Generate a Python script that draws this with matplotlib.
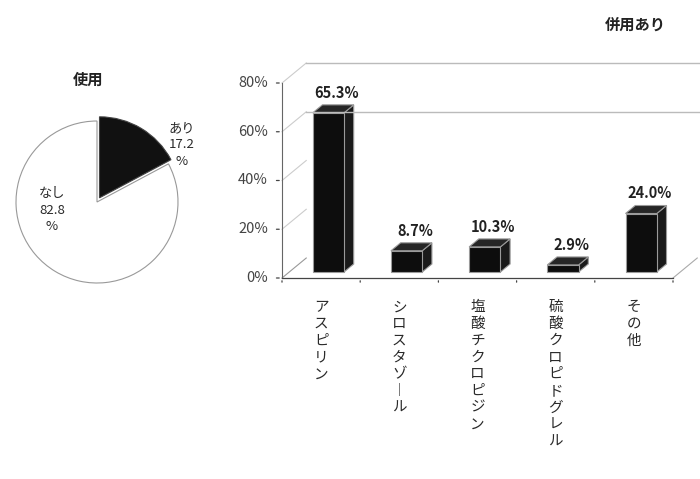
import matplotlib
matplotlib.use('Agg')
import matplotlib.pyplot as plt
from matplotlib.patches import Polygon

plt.rcParams['font.family'] = ['Noto Sans CJK JP', 'DejaVu Sans']

# data
pie_labels = ['あり', 'なし']
pie_values = [17.2, 82.8]
bar_categories = ['アスピリン', 'シロスタゾール', '塩酸チクロピジン', '硫酸クロピドグレル', 'その他']
bar_values = [65.3, 8.7, 10.3, 2.9, 24.0]
y_ticks = [0, 20, 40, 60, 80]

W, H = 700, 479
fig = plt.figure(figsize=(7, 4.79), dpi=100)

# ---- pie ----
cx, cy, r = 97, 202, 81
pax = fig.add_axes([(cx - r) / W, (H - cy - r) / H, 2 * r / W, 2 * r / H])
wedges, _ = pax.pie(pie_values, colors=['#111111', 'white'], startangle=90, counterclock=False,
                    explode=[0.06, 0], radius=1,
                    wedgeprops=dict(edgecolor='#999999', linewidth=0.8))
wedges[0].set_edgecolor('#444444')
pax.set_xlim(-1, 1)
pax.set_ylim(-1, 1)
pax.axis('off')
for w in wedges:
    w.set_clip_on(False)
fig.text(88 / W, 1 - 80 / H, '使用', ha='center', va='center', fontsize=11, fontweight='bold', color='#222222')
fig.text(182 / W, 1 - 145 / H, f'{pie_labels[0]}\n{pie_values[0]}\n%', ha='center', va='center',
         fontsize=9.5, color='#2a2a2a', linespacing=1.35)
fig.text(52 / W, 1 - 210 / H, f'{pie_labels[1]}\n{pie_values[1]}\n%', ha='center', va='center',
         fontsize=9.5, color='#2a2a2a', linespacing=1.35)

# ---- pseudo 3D bar chart ----
x0, x1 = 282, 673
y0, y1 = 278, 83
ax = fig.add_axes([x0 / W, (H - y0) / H, (x1 - x0) / W, (y0 - y1) / H])
ax.set_xlim(-0.5, 4.5)
ax.set_ylim(0, 80)
ax.axis('off')

DX, DY = 0.31, 8.2   # depth shift of back wall (data units)


def proj(x, y, d):
    return (x + d * DX, y + d * DY)


grid_c = '#bbbbbb'
# left wall diagonals
for v in y_ticks:
    p0, p1 = proj(-0.5, v, 0), proj(-0.5, v, 1)
    ax.plot([p0[0], p1[0]], [p0[1], p1[1]], color='#cccccc' if v else '#999999', lw=0.8, clip_on=False)
# back wall lines
for v in [60, 80]:
    p0, p1 = proj(-0.5, v, 1), proj(5.2, v, 1)
    ax.plot([p0[0], p1[0]], [p0[1], p1[1]], color=grid_c, lw=1.0, clip_on=False)
# floor right edge
p0, p1 = proj(4.5, 0, 0), proj(4.5, 0, 1)
ax.plot([p0[0], p1[0]], [p0[1], p1[1]], color='#aaaaaa', lw=0.8, clip_on=False)

# axes lines and ticks
ax.plot([-0.5, -0.5], [0, 80], color='#666666', lw=0.8, clip_on=False)
ax.plot([-0.5, 4.5], [0, 0], color='#444444', lw=0.9, clip_on=False)
for v in y_ticks:
    ax.annotate('', xy=(-0.5, v), xytext=(-6, 0), textcoords='offset points',
                arrowprops=dict(arrowstyle='-', color='#444444', lw=0.9))
    ax.annotate(f'{v}%', xy=(-0.5, v), xytext=(-10, 0), textcoords='offset points',
                ha='right', va='center', fontsize=10.5, color='#444444')
for i in range(len(bar_categories) + 1):
    ax.annotate('', xy=(i - 0.5, 0), xytext=(0, -5), textcoords='offset points',
                arrowprops=dict(arrowstyle='-', color='#444444', lw=0.9))

# bars
bw = 0.2
for i, v in enumerate(bar_values):
    xa, xb = i - bw, i + bw
    front = [proj(xa, 0, 0.3), proj(xb, 0, 0.3), proj(xb, v, 0.3), proj(xa, v, 0.3)]
    side = [proj(xb, 0, 0.3), proj(xb, 0, 0.7), proj(xb, v, 0.7), proj(xb, v, 0.3)]
    top = [proj(xa, v, 0.3), proj(xb, v, 0.3), proj(xb, v, 0.7), proj(xa, v, 0.7)]
    for pts, fc in [(side, '#1a1a1a'), (front, '#0d0d0d'), (top, '#262626')]:
        ax.add_patch(Polygon(pts, closed=True, facecolor=fc, edgecolor='#9a9a9a', lw=0.8, clip_on=False))
    ax.annotate(f'{v:.1f}%', xy=(i + 0.2, v + 5), xytext=(0, 10), textcoords='offset points',
                ha='center', va='center', fontsize=10.5, fontweight='bold', color='#222222')

# vertical category labels
for i, name in enumerate(bar_categories):
    txt = '\n'.join('︱' if ch == 'ー' else ch for ch in name)
    ax.annotate(txt, xy=(i, 0), xytext=(0, -16), textcoords='offset points',
                ha='center', va='top', fontsize=10.5, color='#2a2a2a', linespacing=1.25)

fig.text(635 / W, 1 - 25 / H, '併用あり', ha='center', va='center', fontsize=11, fontweight='bold', color='#222222')

fig.savefig('out.png', dpi=100, facecolor='white')
